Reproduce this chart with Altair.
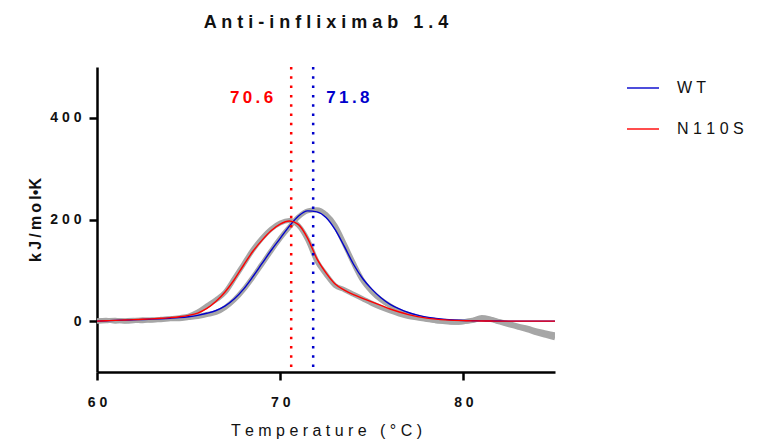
import altair as alt
import pandas as pd

FONT = "Liberation Sans"

TEMPS = [60.0, 60.5, 61.0, 61.5, 62.0, 62.5, 63.0, 63.5, 64.0, 64.5,
         65.0, 65.5, 66.0, 66.5, 67.0, 67.5, 68.0, 68.5, 69.0, 69.5,
         70.0, 70.5, 71.0, 71.5, 72.0, 72.5, 73.0, 73.5, 74.0, 74.5,
         75.0, 75.5, 76.0, 76.5, 77.0, 77.5, 78.0, 78.5, 79.0, 79.5,
         80.0, 80.5, 81.0, 81.5, 82.0, 82.5, 83.0, 83.5, 84.0, 84.5, 85.0]

# raw DSC traces (grey)
WT_DATA = [1, 2, 0, 1, 2, 1, 3, 3, 5, 5,
           7, 9, 13, 17, 27, 42, 62, 86, 112, 138,
           163, 185, 205, 217, 219, 210, 188, 152, 114, 80,
           58, 42, 30, 20, 13, 8, 4, 1, -1, -2,
           -1, 2, 7, 4, -1, -5, -10, -14, -19, -23, -27]
N110S_DATA = [0, 1, 2, 0, 1, 3, 2, 4, 5, 7,
              10, 18, 30, 42, 57, 84, 112, 140, 163, 181,
              193, 198, 188, 160, 118, 92, 70, 62, 53, 44,
              35, 27, 20, 14, 9, 6, 3, 1, 0, -2,
              -1, 1, 5, 3, -2, -7, -12, -17, -23, -28, -33]

# fitted curves
WT_FIT = [0, 0.8, 1.5, 2, 2.7, 3.3, 4, 4.8, 5.8, 7,
          8.8, 11.5, 15.5, 21, 30, 44, 63, 87, 113, 139,
          163, 187, 207, 217, 215, 204, 180, 147, 112, 84,
          63, 46, 33, 24, 17, 12, 8, 5.5, 3.6, 2.3,
          1.4, 0.9, 0.5, 0.3, 0.2, 0.1, 0, 0, 0, 0, 0]
N110S_FIT = [0, 0.8, 1.5, 2.2, 3, 3.8, 4.6, 5.6, 7, 8.8,
             11.5, 16, 25, 39, 58, 82, 110, 137, 159, 178,
             191, 197, 190, 163, 123, 95, 73, 61, 52, 45,
             38, 31, 24, 18, 13, 9, 6, 4, 2.5, 1.6,
             1, 0.6, 0.4, 0.2, 0.1, 0, 0, 0, 0, 0, 0]

SERIES = ["WT", "N110S"]
TM = [71.8, 70.6]
LABEL_Y = [440, 440]
COLORS = ["#0000CC", "#FF0000"]


def spaced(s):
    return " ".join("\u00a0" if ch == " " else ch for ch in s)


raw = pd.DataFrame({
    "T": TEMPS * 2,
    "value": WT_DATA + N110S_DATA,
    "series": ["WT"] * len(TEMPS) + ["N110S"] * len(TEMPS),
})
fit = pd.DataFrame({
    "T": TEMPS * 2,
    "value": WT_FIT + N110S_FIT,
    "series": ["WT"] * len(TEMPS) + ["N110S"] * len(TEMPS),
})
tm = pd.DataFrame({"T": TM, "value": LABEL_Y, "series": SERIES})

x_enc = alt.X(
    "T:Q",
    scale=alt.Scale(domain=[60, 85], nice=False, zero=False),
    axis=alt.Axis(
        values=[60, 70, 80],
        title=spaced("Temperature (°C)"),
        labelExpr="join(split(datum.label, ''), ' ')",
        labelFlush=False,
    ),
)
y_enc = alt.Y(
    "value:Q",
    scale=alt.Scale(domain=[-100, 500], nice=False, zero=False),
    axis=alt.Axis(
        values=[0, 200, 400],
        title="k\u2009J\u2009/\u2009m\u2009o\u2009l\u2022K",
        labelExpr="join(split(datum.label, ''), ' ')",
        titleFontWeight="bold",
        titleFontSize=16,
        titlePadding=6,
        labelFlush=False,
    ),
)

gray = alt.Chart(raw).mark_line(
    color="#A6A6A6", strokeWidth=5, interpolate="monotone", clip=True
).encode(x=x_enc, y=y_enc, detail="series:N")

fits = alt.Chart(fit).mark_line(
    strokeWidth=1.4, interpolate="monotone", clip=True
).encode(
    x="T:Q",
    y="value:Q",
    color=alt.Color(
        "series:N",
        scale=alt.Scale(domain=SERIES, range=COLORS),
        legend=alt.Legend(
            title=None,
            orient="none",
            legendX=529,
            legendY=4,
            symbolType="stroke",
            symbolSize=1024,
            symbolStrokeWidth=1.4,
            labelFont=FONT,
            labelFontSize=16,
            labelColor="#111111",
            labelOffset=17,
            rowPadding=16,
            labelExpr="join(split(datum.label, ''), ' ')",
        ),
    ),
)

layers = [gray, fits]
for s, c, align, dx in zip(SERIES, COLORS, ["left", "right"], [13, -18]):
    sub = alt.Chart(tm).transform_filter(alt.datum.series == s)
    layers.append(
        sub.mark_rule(color=c, strokeWidth=2.5, strokeDash=[2.5, 6.8]).encode(x="T:Q")
    )
    layers.append(
        sub.transform_calculate(
            label="join(split(format(datum.T, '.1f'), ''), '\u2009')"
        ).mark_text(
            color=c, font=FONT, fontSize=17, fontWeight="bold",
            align=align, baseline="middle", dx=dx,
        ).encode(x="T:Q", y="value:Q", text="label:N")
    )

chart = alt.layer(*layers).properties(
    width=458,
    height=305,
    padding={"left": 89, "top": 59, "right": 197, "bottom": 68},
    autosize=alt.AutoSizeParams(type="none"),
    title=alt.Title(
        text=spaced("Anti-infliximab 1.4"),
        font=FONT, fontSize=18, fontWeight="bold", color="#111111",
        anchor="middle", offset=34, frame="group",
    ),
).configure_view(stroke=None).configure_axis(
    grid=False,
    domainColor="black",
    domainWidth=2.5,
    tickColor="black",
    tickWidth=2.5,
    tickSize=8,
    labelFont=FONT,
    labelFontSize=14,
    labelFontWeight="bold",
    labelColor="#111111",
    titleFont=FONT,
    titleColor="#111111",
).configure_axisX(
    labelPadding=15,
    titleFontSize=16,
    titleFontWeight="normal",
    titlePadding=13,
).configure_axisY(
    labelPadding=8,
)

chart.save("out.html", embed_options={"renderer": "svg", "actions": False})
